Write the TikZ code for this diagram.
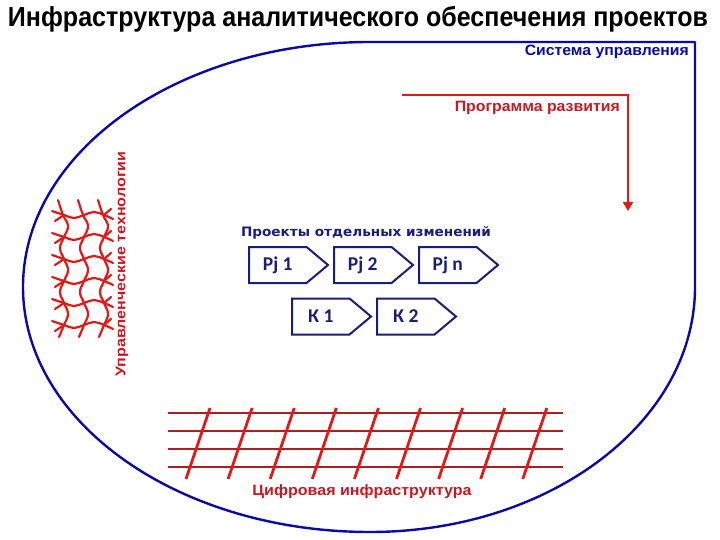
\documentclass[tikz,border=0pt]{standalone}
\usepackage{fontspec}
\usepackage{graphicx}
\setmainfont{Liberation Sans}
\newfontfamily\dvs{DejaVu Sans}
\newfontfamily\carl{Carlito}
\usetikzlibrary{shapes.symbols,arrows.meta}
\definecolor{navy}{RGB}{10,10,165}
\definecolor{dnavy}{RGB}{25,30,120}
\definecolor{pred}{RGB}{225,25,25}
\definecolor{dred}{RGB}{175,30,30}
\definecolor{tred}{RGB}{200,25,35}
\tikzset{
  outline/.style={draw=navy, line width=2.4pt},
  sigbox/.style={signal, signal to=east, signal pointer angle=80, draw=dnavy, line width=2pt,
     fill=white, minimum width=79pt, minimum height=36pt, inner sep=0pt, anchor=west,
     font=\carl\bfseries\fontsize{19.5}{19.5}\selectfont, text=dnavy},
  meshline/.style={draw=pred, line width=2.2pt, line cap=round},
  hline/.style={draw=dred, line width=2.4pt},
  sline/.style={draw=pred, line width=2.8pt},
}
\begin{document}
\begin{tikzpicture}[x=1pt,y=-1pt]
\useasboundingbox (0,0) rectangle (720,540);
% title
\node (title) at (358,19) {\resizebox{700pt}{\height}{\fontsize{27.5}{27.5}\selectfont\bfseries Инфраструктура аналитического обеспечения проектов}};
% outline
\draw[outline, line join=round] (695,287) -- (695,42) -- (370,42)
  arc[start angle=90, end angle=270, x radius=347pt, y radius=245pt]
  arc[start angle=270, end angle=360, x radius=325pt, y radius=245pt];
\node[anchor=east, text=navy, inner sep=0pt] (sys) at (689,52) {\resizebox{164pt}{\height}{\fontsize{15}{15}\selectfont\bfseries Система управления}};
% development program
\coordinate (pstart) at (402,95);
\coordinate (pcorner) at (628,95);
\coordinate (pend) at (628,211);
\draw[draw=pred, line width=2.6pt, -{Triangle[width=10pt,length=9pt]}] (pstart) -- (pcorner) -- (pend);
\node[anchor=east, text=tred, inner sep=0pt] (prog) at (620,108) {\resizebox{165pt}{\height}{\fontsize{15}{15}\selectfont\bfseries Программа развития}};
% management technologies
\node[rotate=90, text=tred, inner sep=0pt] (mgmt) at (122,264) {\resizebox{225pt}{\height}{\fontsize{14}{14}\selectfont\bfseries Управленческие технологии}};
% mesh
\foreach \x in {64,84,104}{
  \draw[meshline] plot[smooth, tension=0.7] coordinates {(\x-6,200) (\x-1,215) (\x+4,226) (\x,237) (\x-4,248) (\x,259) (\x+4,270) (\x,281) (\x-4,292) (\x,303) (\x+4,314) (\x,325) (\x-5,337)};
}
\foreach \y in {215,237,259,281,303,325}{
  \draw[meshline] plot[smooth, tension=0.7] coordinates {(52,\y-4) (64,\y) (74,\y+3) (84,\y) (94,\y-3) (104,\y) (113,\y+4)};
  \draw[meshline] (64,\y) -- (55,\y+6);
  \draw[meshline] (104,\y) -- (111,\y-6);
}
% projects
\node[text=dnavy, inner sep=0pt] (projt) at (366,233) {\resizebox{250pt}{\height}{\dvs\fontsize{13}{13}\selectfont\bfseries Проекты отдельных изменений}};
\node[sigbox] (pj1) at (248,265) {Pj 1\hspace{1pt}};
\node[sigbox] (pj2) at (333,265) {Pj 2\hspace{1pt}};
\node[sigbox] (pjn) at (418,265) {Pj n\hspace{1pt}};
\node[sigbox] (k1) at (291,316.5) {К 1\hspace{1pt}};
\node[sigbox] (k2) at (376,316.5) {К 2\hspace{1pt}};
% digital grid
\foreach \y in {413,431,449,467}{
  \draw[hline] (168,\y) -- (563,\y);
}
\foreach \i in {0,...,8}{
  \draw[sline] (186+42.1*\i,479) -- (210+42.1*\i,408);
}
\node[text=tred, inner sep=0pt] (dig) at (362,492) {\resizebox{219pt}{\height}{\fontsize{15}{15}\selectfont\bfseries Цифровая инфраструктура}};
\end{tikzpicture}
\end{document}
